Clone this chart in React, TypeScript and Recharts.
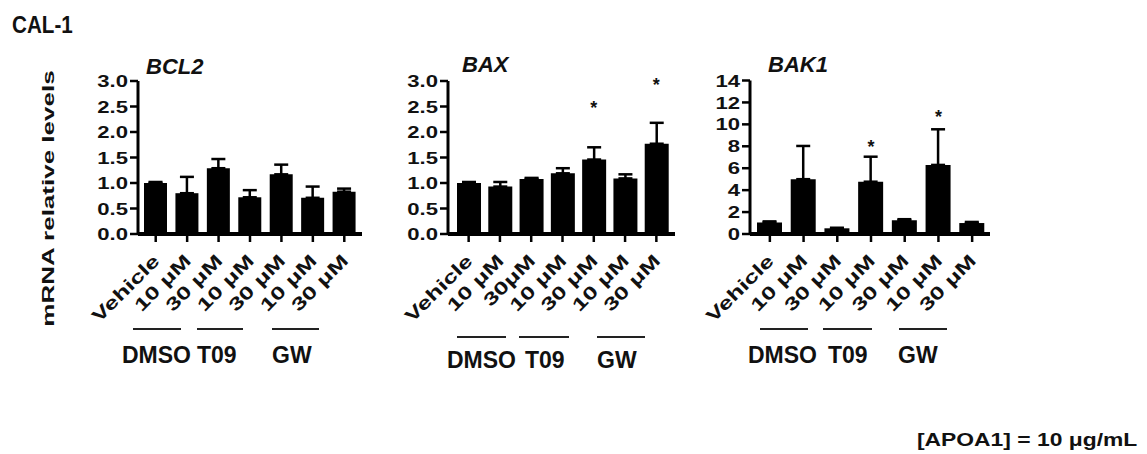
import React from 'react';
import { ComposedChart, Bar, ErrorBar, Scatter, XAxis, YAxis } from 'recharts';

const FONT = '"Liberation Sans", Arial, sans-serif';
const INK = '#111';

// tick labels under the bars
const labels = ['Vehicle', '10 μM', '30 μM', '10 μM', '30 μM', '10 μM', '30 μM'];
const baxLabels = ['Vehicle', '10 μM', '30μM', '10 μM', '30 μM', '10 μM', '30 μM'];

// BCL2
const bcl2Values = [1.0, 0.8, 1.29, 0.72, 1.17, 0.71, 0.83];
const bcl2Errors = [0.02, 0.32, 0.18, 0.14, 0.19, 0.22, 0.06];
const bcl2Stars = [null, null, null, null, null, null, null];

// BAX
const baxValues = [1.0, 0.93, 1.08, 1.19, 1.46, 1.09, 1.77];
const baxErrors = [0.02, 0.09, 0.02, 0.1, 0.24, 0.08, 0.41];
const baxStars = [null, null, null, null, 2.54, null, 3.0];

// BAK1
const bak1Values = [1.05, 5.0, 0.52, 4.77, 1.25, 6.3, 1.0];
const bak1Errors = [0.1, 3.03, 0.05, 2.28, 0.1, 3.25, 0.1];
const bak1Stars = [null, null, null, 8.3, null, 11.0, null];

const ratioTicks = [0, 0.5, 1, 1.5, 2, 2.5, 3];
const bak1Ticks = [0, 2, 4, 6, 8, 10, 12, 14];

const buildRows = (values: number[], errors: number[], stars: (number | null)[]) =>
  values.map((v, i) => ({ id: i, value: v, err: [0, errors[i]], star: stars[i] }));

const YTick = (props: any) => {
  const { x, y, payload, decimals } = props;
  return (
    <text
      transform={`translate(${x},${y}) scale(1.3,1)`}
      textAnchor="end"
      dy="0.36em"
      fontFamily={FONT}
      fontWeight="bold"
      fontSize={17}
      fill={INK}
    >
      {Number(payload.value).toFixed(decimals)}
    </text>
  );
};

const XTick = (props: any) => {
  const { x, y, payload, names } = props;
  return (
    <text
      transform={`translate(${x + 5},${y + 18}) rotate(-45) scale(1.4,1)`}
      textAnchor="end"
      fontFamily={FONT}
      fontWeight="bold"
      fontSize={18}
      fill={INK}
    >
      {names[payload.value]}
    </text>
  );
};

const Star = (props: any) => {
  const { cx, cy, payload } = props;
  if (payload == null || payload.star == null) return <g />;
  return (
    <text x={cx} y={cy + 10} textAnchor="middle" fontFamily={FONT} fontWeight="bold" fontSize={18} fill={INK}>
      *
    </text>
  );
};

interface PanelProps {
  rows: any[];
  names: string[];
  axisX: number;
  axisEnd: number;
  y0: number;
  yTop: number;
  max: number;
  ticks: number[];
  decimals: number;
  padL: number;
  padR: number;
  barSize: number;
}

const Panel = (p: PanelProps) => {
  const left = p.axisX - 90;
  const width = p.axisEnd - left + 10;
  const height = 454;
  return (
    <div style={{ position: 'absolute', left, top: 0 }}>
      <ComposedChart
        width={width}
        height={height}
        data={p.rows}
        margin={{ top: p.yTop, right: 10, left: 30, bottom: height - p.y0 - 100 }}
      >
        <XAxis
          dataKey="id"
          type="category"
          interval={0}
          height={100}
          padding={{ left: p.padL, right: p.padR }}
          axisLine={{ stroke: '#000', strokeWidth: 4 }}
          tickLine={{ stroke: '#000', strokeWidth: 2.5 }}
          tickSize={8}
          tickMargin={2}
          tick={(t: any) => <XTick {...t} names={p.names} />}
        />
        <YAxis
          type="number"
          domain={[0, p.max]}
          ticks={p.ticks}
          interval={0}
          width={60}
          axisLine={{ stroke: '#000', strokeWidth: 3 }}
          tickLine={{ stroke: '#000', strokeWidth: 2.5 }}
          tickSize={8}
          tickMargin={2}
          tick={(t: any) => <YTick {...t} decimals={p.decimals} />}
        />
        <Bar dataKey="value" fill="#000" barSize={p.barSize} isAnimationActive={false}>
          <ErrorBar dataKey="err" width={7} stroke="#000" strokeWidth={2.5} isAnimationActive={false} />
        </Bar>
        <Scatter dataKey="star" shape={Star} isAnimationActive={false} />
      </ComposedChart>
    </div>
  );
};

const groups = [
  { y: 329, ty: 363, items: [
    { text: 'DMSO', x1: 133, x2: 181, tx: 122 },
    { text: 'T09', x1: 197, x2: 243, tx: 197 },
    { text: 'GW', x1: 272, x2: 319, tx: 272 },
  ] },
  { y: 337, ty: 368, items: [
    { text: 'DMSO', x1: 457, x2: 506, tx: 447 },
    { text: 'T09', x1: 519, x2: 569, tx: 525 },
    { text: 'GW', x1: 597, x2: 645, tx: 597 },
  ] },
  { y: 329, ty: 363, items: [
    { text: 'DMSO', x1: 760, x2: 808, tx: 748 },
    { text: 'T09', x1: 823, x2: 872, tx: 828 },
    { text: 'GW', x1: 899, x2: 947, tx: 898 },
  ] },
];

const titles = [
  { text: 'BCL2', x: 146, y: 74 },
  { text: 'BAX', x: 462, y: 72 },
  { text: 'BAK1', x: 768, y: 72 },
];

export default function App() {
  return (
    <div style={{ position: 'absolute', left: 0, top: 0, width: 1147, height: 454, background: '#fff', overflow: 'hidden' }}>
      <Panel
        rows={buildRows(bcl2Values, bcl2Errors, bcl2Stars)}
        names={labels}
        axisX={138}
        axisEnd={362}
        y0={234}
        yTop={81}
        max={3}
        ticks={ratioTicks}
        decimals={1}
        padL={2}
        padR={2}
        barSize={23}
      />
      <Panel
        rows={buildRows(baxValues, baxErrors, baxStars)}
        names={baxLabels}
        axisX={448}
        axisEnd={675}
        y0={234}
        yTop={81}
        max={3}
        ticks={ratioTicks}
        decimals={1}
        padL={5}
        padR={3}
        barSize={24}
      />
      <Panel
        rows={buildRows(bak1Values, bak1Errors, bak1Stars)}
        names={labels}
        axisX={750}
        axisEnd={990}
        y0={234}
        yTop={80.5}
        max={14}
        ticks={bak1Ticks}
        decimals={0}
        padL={3}
        padR={1}
        barSize={25}
      />
      <svg width={1147} height={454} style={{ position: 'absolute', left: 0, top: 0, pointerEvents: 'none' }}>
        <text transform="translate(12,33) scale(0.86,1)" fontFamily={FONT} fontWeight="bold" fontSize={24} fill={INK}>
          CAL-1
        </text>
        <text
          transform="translate(53.5,198.5) rotate(-90) scale(1.53,1)"
          textAnchor="middle"
          fontFamily={FONT}
          fontWeight="bold"
          fontSize={17}
          fill={INK}
        >
          mRNA relative levels
        </text>
        {titles.map((t) => (
          <text key={t.text} x={t.x} y={t.y} fontFamily={FONT} fontWeight="bold" fontStyle="italic" fontSize={22} fill={INK}>
            {t.text}
          </text>
        ))}
        {groups.map((g, gi) =>
          g.items.map((it) => (
            <g key={`${gi}-${it.text}`}>
              <line x1={it.x1} x2={it.x2} y1={g.y} y2={g.y} stroke="#222" strokeWidth={2} />
              <text x={it.tx} y={g.ty} fontFamily={FONT} fontWeight="bold" fontSize={23} fill={INK}>
                {it.text}
              </text>
            </g>
          ))
        )}
        <text transform="translate(917,446) scale(1.27,1)" fontFamily={FONT} fontWeight="bold" fontSize={18} fill={INK}>
          [APOA1] = 10 μg/mL
        </text>
      </svg>
    </div>
  );
}
